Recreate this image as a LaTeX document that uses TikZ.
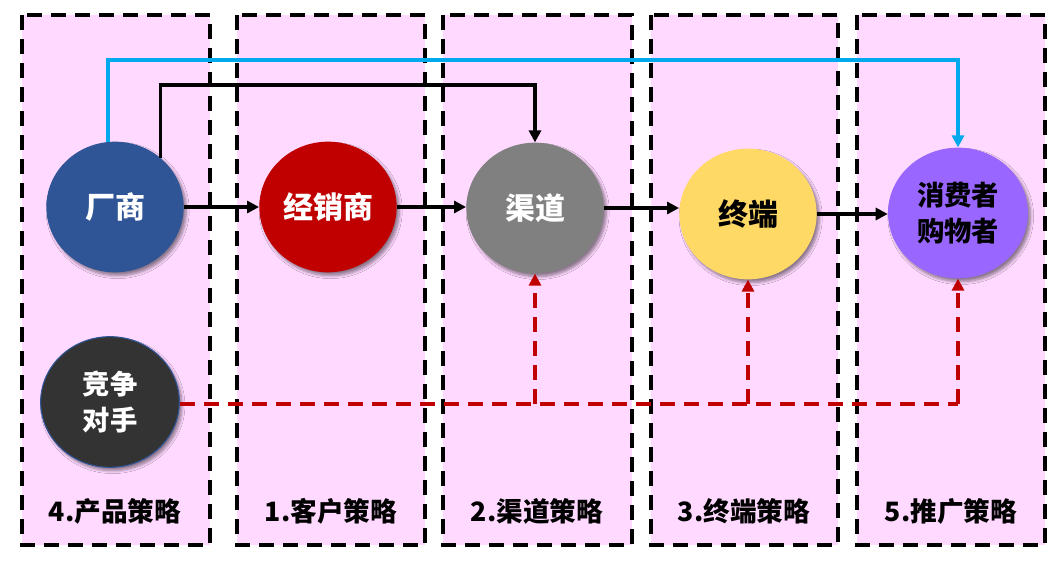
\documentclass[tikz,border=0pt]{standalone}
\usepackage{fontspec}
\setmainfont{Noto Sans CJK SC}
\usetikzlibrary{arrows.meta,shapes.geometric,shadows.blur}
\definecolor{pinkbg}{RGB}{255,217,255}
\definecolor{cblue}{RGB}{47,85,151}
\definecolor{cred}{RGB}{192,0,0}
\definecolor{cgray}{RGB}{128,128,128}
\definecolor{cyellow}{RGB}{255,217,102}
\definecolor{cpurple}{RGB}{153,102,255}
\definecolor{cdark}{RGB}{51,51,51}
\definecolor{cline}{RGB}{0,168,236}
\definecolor{dred}{RGB}{192,0,0}
\tikzset{
  panel/.style={fill=pinkbg, draw=black, line width=3pt, dash pattern=on 11pt off 7pt},
  ball/.style={ellipse, inner sep=0pt, minimum width=103pt, minimum height=98pt,
    blur shadow={shadow xshift=2pt, shadow yshift=-2.5pt, shadow blur steps=6, shadow opacity=45},
    font=\fontsize{22.5}{27}\selectfont\bfseries, align=center},
  ball2/.style={ball, font=\fontsize{20.5}{27.5}\selectfont\bfseries},
  lab/.style={font=\fontsize{20}{24}\selectfont\bfseries, text=black},
  blk/.style={draw=black, line width=2.6pt, -{Triangle[length=9pt,width=9pt]}},
  blu/.style={draw=cline, line width=2.6pt, -{Triangle[length=9pt,width=9pt]}},
  rdd/.style={draw=dred, line width=2.6pt, dash pattern=on 11pt off 7pt},
  rdda/.style={rdd, -{Triangle[length=9pt,width=9pt]}}
}
\begin{document}
\begin{tikzpicture}[x=0.75pt,y=-0.75pt]
\useasboundingbox (0,0) rectangle (1060,569);
\fill[white] (0,0) rectangle (1060,569);
% panels
\path[panel] (22,15) rectangle (210,545);
\path[panel] (237,15) rectangle (425,545);
\path[panel] (443,15) rectangle (632,545);
\path[panel] (651,15) rectangle (838,545);
\path[panel] (857,15) rectangle (1045,545);
% labels
\node[lab] (l1) at (115,511) {4.产品策略};
\node[lab] (l2) at (331,511) {1.客户策略};
\node[lab] (l3) at (537,511) {2.渠道策略};
\node[lab] (l4) at (744,511) {3.终端策略};
\node[lab] (l5) at (951,511) {5.推广策略};
% circles
\node[ball, fill=cblue, text=white] (cs) at (115,207) {厂商};
\node[ball, fill=cred, text=white] (jx) at (328,207) {经销商};
\node[ball, fill=cgray, text=white] (jq) at (535,208) {渠道};
\node[ball, fill=cyellow, text=black] (zd) at (748,214) {终端};
\node[ball2, fill=cpurple, text=black, minimum width=105pt] (xf) at (958,213) {消费者\\购物者};
\node[ball2, fill=cdark, text=white, draw=cblue, line width=0.8pt, minimum width=104pt] (jz) at (110,402) {竞争\\对手};
% coordinates for elbows
\coordinate (ktop) at (0,85);
\coordinate (btop) at (0,60);
\coordinate (rline) at (0,404);
% main flow
\draw[blk] (cs.east) -- (jx.west |- cs.east);
\draw[blk] (jx.east) -- (jq.west |- jx.east);
\draw[blk] (jq.east) -- (zd.west |- jq.east);
\draw[blk] (zd.east) -- (xf.west |- zd.east);
% black elbow
\draw[blk] (cs.47) -- (cs.47 |- ktop) -| (jq.north);
% blue elbow
\draw[blu] (cs.96) -- (cs.96 |- btop) -| (xf.north);
% red dashed
\draw[rdd] (jz.east |- rline) -- (xf.south |- rline);
\draw[rdda] (xf.south |- rline) -- (xf.south);
\draw[rdda] (jq.south |- rline) -- (jq.south);
\draw[rdda] (zd.south |- rline) -- (zd.south);
\end{tikzpicture}
\end{document}
